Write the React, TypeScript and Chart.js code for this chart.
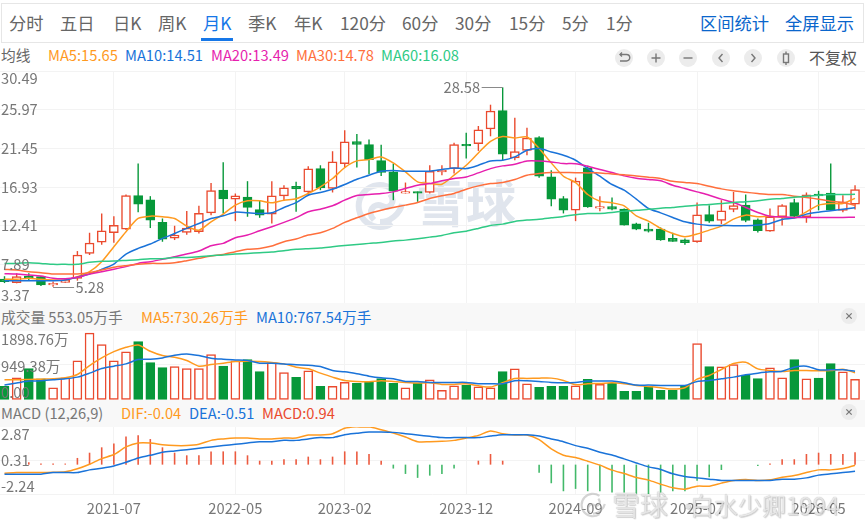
import { useEffect, useRef } from 'react';
import type { CSSProperties, ReactNode } from 'react';
import { Chart, registerables } from 'chart.js';

Chart.register(...registerables);

const FONT = '"Noto Sans CJK SC", "Noto Sans", sans-serif';
const GREY_TEXT = '#777777';
const GRID = '#f3f3f3';
const RED = '#ea4a2e';
const GREEN = '#07983a';
const ORANGE = '#ff9a1f';
const BLUE = '#1a73d9';
const MAGENTA = '#e61fae';
const CORAL = '#ff6f3c';
const MINT = '#2fca85';

const tabs = ['分时', '五日', '日K', '周K', '月K', '季K', '年K', '120分', '60分', '30分', '15分', '5分', '1分'];
const tabLefts = [9, 60, 113, 158, 203, 248, 294, 340, 402, 455, 509, 562, 606];

// monthly candles, oldest first
const opens = [6.18, 5.75, 6.53, 6.45, 5.48, 5.79, 6.25, 9.17, 10.49, 11.58, 12.01, 15.94, 15.43, 12.79, 10.96, 11.62, 11.7, 13.91, 16.56, 15.51, 15.74, 14.3, 13.76, 15.9, 17.02, 16.36, 19.08, 16.75, 19.67, 22.23, 21.88, 20.02, 18.7, 16.21, 16.4, 16.29, 18.7, 19.08, 21.92, 22.0, 23.71, 25.85, 20.33, 21.22, 22.7, 18.11, 15.59, 14.22, 19.16, 14.46, 14.65, 14.34, 12.63, 12.01, 12.01, 10.92, 10.76, 10.53, 13.72, 13.02, 14.3, 14.81, 13.1, 11.78, 13.45, 15.12, 13.45, 16.09, 16.21, 14.2, 14.92];
const closes = [5.86, 6.45, 6.23, 5.48, 5.67, 6.06, 8.98, 10.38, 11.82, 12.44, 15.94, 14.92, 13.06, 10.84, 11.31, 12.13, 13.84, 16.52, 15.55, 15.9, 14.54, 13.64, 15.9, 16.83, 16.71, 19.05, 16.83, 19.86, 22.2, 21.92, 20.13, 18.62, 16.44, 16.4, 16.21, 18.77, 18.9, 21.88, 21.73, 23.6, 25.81, 20.76, 21.07, 22.66, 18.19, 15.51, 14.22, 17.61, 14.61, 14.65, 14.34, 12.48, 12.01, 11.78, 10.73, 10.57, 10.41, 13.68, 12.94, 14.15, 14.77, 13.02, 11.82, 13.45, 14.77, 13.49, 16.01, 15.9, 14.22, 15.2, 16.63];
const highs = [6.5, 6.84, 6.84, 6.53, 5.87, 6.25, 9.44, 11.58, 13.84, 13.52, 16.05, 19.67, 15.86, 13.25, 12.4, 14.11, 14.73, 17.41, 19.82, 16.17, 17.61, 15.39, 17.61, 17.14, 17.53, 19.36, 19.47, 21.11, 23.56, 23.13, 22.47, 21.88, 19.67, 17.45, 16.4, 19.47, 19.47, 22.1, 23.28, 24.06, 26.55, 28.58, 25.03, 23.87, 22.86, 18.89, 15.86, 18.03, 19.4, 15.86, 15.7, 14.42, 12.75, 12.75, 12.2, 11.58, 10.92, 15.12, 14.81, 15.39, 16.36, 16.05, 13.25, 14.42, 14.92, 15.55, 16.29, 16.48, 19.67, 15.97, 17.14];
const lows = [5.7, 5.67, 5.98, 5.36, 5.28, 5.75, 5.98, 8.98, 10.18, 10.42, 11.89, 13.99, 12.13, 10.53, 10.73, 11.35, 11.5, 13.64, 13.84, 12.94, 13.45, 13.33, 12.67, 15.39, 14.03, 15.97, 16.56, 16.29, 19.2, 19.2, 18.42, 18.23, 15.39, 16.17, 15.2, 16.17, 18.3, 18.5, 20.25, 21.15, 22.86, 20.06, 20.06, 20.64, 18.0, 14.69, 13.84, 12.94, 14.5, 14.1, 14.2, 12.44, 11.89, 11.62, 10.65, 10.53, 10.18, 10.41, 12.75, 12.59, 13.99, 12.82, 11.62, 11.7, 12.44, 13.37, 12.75, 14.2, 14.15, 13.99, 14.3];

const ma5 = [6.14, 6.14, 6.25, 6.14, 6.06, 6.06, 6.45, 7.03, 8.2, 9.95, 11.7, 13.25, 13.52, 13.45, 13.25, 12.36, 11.89, 12.86, 13.76, 14.81, 15.31, 15.31, 15.08, 15.39, 15.55, 16.17, 16.95, 17.92, 19.2, 19.98, 20.13, 20.45, 19.75, 18.7, 17.53, 17.34, 17.26, 18.31, 19.47, 20.91, 22.27, 22.82, 22.66, 22.78, 21.42, 19.75, 18.19, 17.45, 16.05, 15.27, 15.08, 14.73, 13.56, 12.94, 12.09, 11.5, 11.11, 11.43, 11.89, 12.36, 13.17, 13.64, 13.45, 13.52, 13.37, 13.33, 14.03, 14.81, 15.0, 15.0, 15.6];
const ma10 = [5.98, 5.98, 5.98, 5.98, 5.98, 6.06, 6.39, 6.76, 7.31, 7.92, 9.09, 9.75, 10.26, 10.92, 11.5, 12.09, 12.67, 13.25, 13.56, 13.99, 13.91, 13.84, 13.91, 14.54, 15.1, 15.97, 16.29, 16.67, 17.22, 17.84, 18.31, 18.77, 18.85, 18.77, 18.77, 18.77, 18.97, 19.16, 19.08, 19.47, 19.98, 20.06, 20.45, 21.22, 21.42, 21.03, 20.64, 20.06, 19.09, 18.19, 17.22, 16.56, 15.51, 14.42, 13.91, 13.37, 12.86, 12.59, 12.44, 12.44, 12.4, 12.4, 12.48, 12.67, 13.14, 13.29, 13.76, 13.99, 14.15, 14.34, 14.5];
const ma20 = [6.8, 6.76, 6.64, 6.52, 6.25, 6.2, 6.39, 6.76, 7.03, 7.31, 7.62, 8.0, 8.2, 8.47, 8.78, 9.09, 9.44, 10.06, 10.34, 11.0, 11.31, 11.82, 12.28, 12.79, 13.35, 14.03, 14.34, 14.73, 15.39, 15.94, 16.05, 16.17, 16.36, 16.75, 17.14, 17.33, 17.65, 17.92, 18.11, 18.58, 19.08, 19.4, 19.59, 19.98, 19.98, 19.86, 19.67, 19.65, 19.36, 18.97, 18.62, 18.23, 17.96, 17.8, 17.65, 17.14, 16.75, 16.36, 15.97, 15.51, 15.12, 14.54, 13.95, 13.52, 13.45, 13.37, 13.37, 13.37, 13.37, 13.37, 13.4];
const ma30 = [7.3, 7.23, 7.03, 6.92, 6.76, 6.76, 6.76, 6.92, 7.23, 7.54, 7.73, 7.89, 8.0, 8.0, 8.08, 8.32, 8.59, 8.86, 9.05, 9.37, 9.64, 9.75, 10.03, 10.53, 10.85, 11.31, 11.58, 12.09, 12.79, 13.33, 13.84, 14.22, 14.53, 14.81, 15.12, 15.59, 15.9, 16.17, 16.67, 17.06, 17.33, 17.45, 17.8, 18.31, 18.5, 18.62, 18.62, 18.6, 18.58, 18.58, 18.46, 18.35, 18.23, 18.07, 17.92, 17.6, 17.45, 17.33, 17.02, 16.71, 16.48, 16.32, 16.17, 16.05, 16.05, 15.86, 15.7, 15.51, 15.27, 15.12, 14.8];
const ma60 = [8.0, 8.0, 8.08, 8.0, 7.89, 7.89, 7.89, 8.12, 8.24, 8.27, 8.35, 8.43, 8.55, 8.55, 8.68, 8.7, 8.78, 8.9, 8.98, 9.09, 9.17, 9.25, 9.33, 9.48, 9.64, 9.72, 9.79, 9.95, 10.1, 10.22, 10.34, 10.45, 10.61, 10.72, 10.88, 11.07, 11.27, 11.58, 11.77, 12.09, 12.44, 12.59, 12.9, 13.06, 13.17, 13.33, 13.49, 13.7, 13.84, 13.84, 13.95, 14.11, 14.2, 14.34, 14.46, 14.54, 14.69, 14.81, 14.88, 15.0, 15.12, 15.2, 15.31, 15.51, 15.59, 15.74, 15.86, 15.97, 16.05, 16.05, 16.08];

const volumes = [363, 594, 842, 567, 328, 594, 1046, 1790, 1480, 1046, 1285, 1560, 1002, 869, 895, 842, 842, 1214, 904, 1046, 1081, 762, 1002, 736, 603, 780, 363, 363, 470, 443, 479, 576, 443, 328, 452, 541, 257, 381, 390, 355, 328, 762, 833, 434, 337, 363, 363, 381, 550, 417, 452, 230, 230, 363, 257, 257, 390, 1507, 895, 886, 948, 665, 576, 860, 594, 1081, 567, 585, 975, 753, 553.05];
const volMa5 = [541, 541, 550, 558, 567, 594, 683, 922, 1126, 1294, 1409, 1471, 1303, 1188, 1143, 1055, 904, 948, 984, 1028, 1037, 1028, 1002, 966, 878, 833, 718, 612, 523, 496, 488, 514, 496, 470, 452, 461, 417, 417, 434, 381, 346, 461, 576, 576, 585, 585, 523, 408, 434, 443, 461, 434, 390, 363, 328, 293, 328, 558, 656, 815, 975, 1010, 833, 789, 762, 789, 789, 780, 789, 824, 730.26];
const volMa10 = [399, 452, 505, 514, 541, 567, 612, 718, 842, 904, 966, 1081, 1090, 1126, 1197, 1232, 1188, 1117, 1090, 1072, 1055, 984, 984, 966, 940, 931, 895, 789, 753, 700, 638, 594, 567, 496, 496, 470, 470, 470, 470, 434, 434, 434, 514, 514, 496, 470, 461, 470, 505, 505, 505, 461, 399, 399, 390, 390, 390, 496, 523, 567, 612, 674, 718, 753, 771, 878, 904, 807, 807, 807, 767.54];

const macdBars = [0, 0, 0.18, 0.08, 0.08, 0.08, 0.51, 0.91, 1.32, 1.62, 2.15, 2.25, 1.95, 1.32, 0.91, 0.71, 0.71, 1.01, 1.01, 1.01, 0.71, 0.3, 0.3, 0.41, 0.41, 0.61, 0.41, 0.61, 1.01, 1.01, 0.81, 0.3, -0.3, -0.71, -1.01, -0.84, -0.71, -0.3, 0, 0.3, 0.81, 0.3, 0, 0, -0.61, -1.42, -2.03, -1.85, -2.03, -2.03, -2.13, -2.13, -2.23, -2.3, -2.13, -2.03, -2.03, -1.22, -0.96, -0.41, 0, 0, -0.1, 0.08, 0.41, 0.41, 0.81, 0.91, 0.81, 0.81, 0.94];
const dif = [-0.65, -0.6, -0.6, -0.6, -0.58, -0.55, -0.32, 0.03, 0.46, 0.77, 1.35, 1.65, 1.65, 1.52, 1.45, 1.45, 1.55, 1.85, 1.96, 2.03, 2.03, 1.96, 1.96, 2.03, 2.03, 2.26, 2.26, 2.36, 2.77, 2.89, 2.89, 2.66, 2.41, 2.11, 1.75, 1.75, 1.78, 1.85, 2.03, 2.23, 2.56, 2.36, 2.26, 2.26, 1.9, 1.2, 0.72, 0.54, 0.26, -0.04, -0.42, -0.68, -0.98, -1.18, -1.49, -1.77, -1.87, -1.64, -1.64, -1.41, -1.21, -1.13, -1.21, -1.16, -0.96, -0.83, -0.6, -0.4, -0.4, -0.3, -0.04];
const dea = [-0.73, -0.73, -0.73, -0.73, -0.6, -0.6, -0.6, -0.4, -0.27, -0.1, 0.18, 0.51, 0.71, 0.94, 1.04, 1.14, 1.25, 1.35, 1.45, 1.55, 1.65, 1.75, 1.75, 1.85, 1.85, 1.96, 2.06, 2.06, 2.28, 2.39, 2.49, 2.49, 2.46, 2.36, 2.26, 2.16, 2.06, 2.06, 2.06, 2.06, 2.18, 2.28, 2.28, 2.28, 2.18, 1.96, 1.75, 1.45, 1.25, 0.94, 0.74, 0.44, 0.13, -0.17, -0.37, -0.7, -0.91, -1.01, -1.11, -1.21, -1.21, -1.21, -1.21, -1.21, -1.11, -1.11, -1.01, -0.8, -0.7, -0.6, -0.51];

const monthTickIndexes = [9, 19, 28, 38, 47, 57, 67];
const monthTickLabels = ['2021-07', '2022-05', '2023-02', '2023-12', '2024-09', '2025-07', '2026-05'];
const priceTicks = [30.49, 25.97, 21.45, 16.93, 12.41, 7.89, 3.37];
const volumeTicks = [1898.76, 949.38, 0];
const macdTicks = [2.87, 0.31, -2.24];

const X_MIN = -0.37;
const X_MAX = 70.82;

const rising = closes.map((c, i) => c >= opens[i]);

function xScale(labels = false): any {
  return {
    type: 'linear',
    min: X_MIN,
    max: X_MAX,
    offset: false,
    bounds: 'data',
    afterBuildTicks(scale: any) {
      scale.ticks = monthTickIndexes.map((value) => ({ value }));
    },
    afterFit(scale: any) {
      scale.height = labels ? 37 : 0;
    },
    border: { display: false },
    grid: { color: GRID, offset: false, drawTicks: false },
    ticks: {
      display: labels,
      autoSkip: false,
      maxRotation: 0,
      padding: 6,
      color: GREY_TEXT,
      font: { family: FONT, size: 14.7 },
      callback: (value: number) => monthTickLabels[monthTickIndexes.indexOf(value)] ?? '',
    },
  };
}

function yScale(min: number, max: number, gridValues: number[]): any {
  return {
    type: 'linear',
    min,
    max,
    bounds: 'data',
    beginAtZero: false,
    afterBuildTicks(scale: any) {
      scale.ticks = gridValues.map((value) => ({ value }));
    },
    afterFit(scale: any) {
      scale.width = 0;
    },
    border: { display: false },
    grid: { color: GRID, drawTicks: false },
    ticks: { display: false },
  };
}

function lineSet(values: number[], color: string) {
  return {
    type: 'line',
    data: values.map((y, x) => ({ x, y })),
    borderColor: color,
    borderWidth: 1.5,
    pointRadius: 0,
    tension: 0.25,
    order: 0,
  };
}

interface SideLabel {
  value: number;
  text: string;
  baseline?: CanvasTextBaseline;
  nudge?: number;
}

// y axis texts sit inside the plot, first and last ones pushed inward
function sideLabels(items: SideLabel[]) {
  return {
    id: 'sideLabels',
    afterDatasetsDraw(chart: any) {
      const { ctx, scales } = chart;
      ctx.save();
      ctx.font = `14.7px ${FONT}`;
      ctx.fillStyle = GREY_TEXT;
      ctx.textAlign = 'left';
      items.forEach((item) => {
        ctx.textBaseline = item.baseline ?? 'middle';
        ctx.fillText(item.text, 1, scales.y.getPixelForValue(item.value) + (item.nudge ?? 0));
      });
      ctx.restore();
    },
  };
}

// 28.58 and 5.28 markers
function extremes(items: { index: number; value: number; dir: number }[]) {
  return {
    id: 'extremes',
    afterDatasetsDraw(chart: any) {
      const { ctx, scales } = chart;
      ctx.save();
      ctx.font = `14.7px ${FONT}`;
      ctx.fillStyle = GREY_TEXT;
      ctx.strokeStyle = '#8a8a8a';
      ctx.lineWidth = 1;
      ctx.textBaseline = 'middle';
      items.forEach((item) => {
        const px = scales.x.getPixelForValue(item.index);
        const py = Math.round(scales.y.getPixelForValue(item.value)) + 0.5;
        const end = px + item.dir * 21;
        ctx.beginPath();
        ctx.moveTo(px, py);
        ctx.lineTo(end, py);
        ctx.stroke();
        ctx.textAlign = item.dir < 0 ? 'right' : 'left';
        ctx.fillText(item.value.toFixed(2), end + item.dir * 1.5, py);
      });
      ctx.restore();
    },
  };
}

function baseOptions(x: any, y: any): any {
  return {
    animation: false,
    responsive: false,
    maintainAspectRatio: false,
    layout: { padding: 0 },
    scales: { x, y },
    plugins: { legend: { display: false }, tooltip: { enabled: false } },
  };
}

function Text({ left, cy, size = 14.7, color = GREY_TEXT, children, style }: { left: number; cy: number; size?: number; color?: string; children: ReactNode; style?: CSSProperties }) {
  return (
    <div
      style={{
        position: 'absolute',
        left,
        top: cy,
        transform: 'translateY(-50%)',
        fontSize: size,
        lineHeight: 1.2,
        color,
        whiteSpace: 'nowrap',
        ...style,
      }}
    >
      {children}
    </div>
  );
}

function RoundIcon({ cx, cy, children, r = 9 }: { cx: number; cy: number; r?: number; children?: ReactNode }) {
  return (
    <svg width={r * 2} height={r * 2} viewBox="0 0 18 18" style={{ position: 'absolute', left: cx - r, top: cy - r }}>
      <circle cx="9" cy="9" r="9" fill="#ececec" />
      <g fill="none" stroke="#777" strokeWidth="1.4">
        {children}
      </g>
    </svg>
  );
}

function XueqiuLogo({ left, top, size, color, width }: { left: number; top: number; size: number; color: string; width: number }) {
  return (
    <svg width={size} height={size} viewBox="0 0 56 48" style={{ position: 'absolute', left, top }}>
      <g fill="none" stroke={color} strokeWidth={width}>
        <path d="M40 7 A21 21 0 1 0 40 41" />
        <path d="M22 38 C14 30 22 20 30 24 C38 28 44 20 38 12" />
        <path d="M28 40 C38 40 48 32 50 22" />
      </g>
    </svg>
  );
}

export default function App() {
  const priceRef = useRef<HTMLCanvasElement | null>(null);
  const volumeRef = useRef<HTMLCanvasElement | null>(null);
  const macdRef = useRef<HTMLCanvasElement | null>(null);

  useEffect(() => {
    if (!priceRef.current || !volumeRef.current || !macdRef.current) {
      return;
    }

    const priceChart = new Chart(priceRef.current, {
      type: 'bar',
      data: {
        datasets: [
          {
            data: highs.map((h, x) => ({ x, y: [lows[x], h] })),
            backgroundColor: rising.map((r) => (r ? RED : GREEN)),
            barThickness: 1.4,
            inflateAmount: 0,
            grouped: false,
            order: 3,
          },
          {
            data: opens.map((o, x) => ({ x, y: [o, closes[x]] })),
            backgroundColor: rising.map((r) => (r ? '#ffffff' : GREEN)),
            borderColor: rising.map((r) => (r ? RED : GREEN)),
            borderWidth: 1.5,
            borderSkipped: false,
            barThickness: 9,
            grouped: false,
            order: 2,
          },
          lineSet(ma60, MINT),
          lineSet(ma30, CORAL),
          lineSet(ma20, MAGENTA),
          lineSet(ma10, BLUE),
          lineSet(ma5, ORANGE),
        ] as any,
      },
      options: baseOptions(xScale(), yScale(3.37, 30.49, priceTicks)),
      plugins: [
        sideLabels(
          priceTicks.map((value, i) => ({
            value,
            text: value.toFixed(2),
            baseline: i === 0 ? 'top' : i === priceTicks.length - 1 ? 'bottom' : 'middle',
          })),
        ),
        extremes([
          { index: 41, value: 28.58, dir: -1 },
          { index: 4, value: 5.28, dir: 1 },
        ]),
      ],
    });

    const volumeChart = new Chart(volumeRef.current, {
      type: 'bar',
      data: {
        datasets: [
          {
            data: volumes.map((y, x) => ({ x, y })),
            backgroundColor: rising.map((r) => (r ? '#ffffff' : GREEN)),
            borderColor: rising.map((r) => (r ? RED : GREEN)),
            borderWidth: 1.5,
            borderSkipped: false,
            barThickness: 9,
            order: 2,
          },
          lineSet(volMa10, BLUE),
          lineSet(volMa5, ORANGE),
        ] as any,
      },
      options: baseOptions(xScale(), yScale(0, 1898.76, [949.38, 0])),
      plugins: [
        sideLabels([
          { value: volumeTicks[0], text: '1898.76万', nudge: 10 },
          { value: volumeTicks[1], text: '949.38万', nudge: 2 },
          { value: volumeTicks[2], text: '0.00', baseline: 'bottom' },
        ]),
      ],
    });

    const macdChart = new Chart(macdRef.current, {
      type: 'bar',
      data: {
        datasets: [
          {
            data: macdBars.map((y, x) => ({ x, y })),
            backgroundColor: macdBars.map((v) => (v >= 0 ? '#ec5a3f' : '#43b96a')),
            barThickness: 1.6,
            inflateAmount: 0,
            order: 2,
          },
          lineSet(dea, BLUE),
          lineSet(dif, ORANGE),
        ] as any,
      },
      options: baseOptions(xScale(true), yScale(-2.24, 2.87, [0.31, -2.24])),
      plugins: [
        sideLabels([
          { value: macdTicks[0], text: '2.87', baseline: 'top' },
          { value: macdTicks[1], text: '0.31' },
          { value: macdTicks[2], text: '-2.24', baseline: 'bottom' },
        ]),
      ],
    });

    return () => {
      priceChart.destroy();
      volumeChart.destroy();
      macdChart.destroy();
    };
  }, []);

  return (
    <div style={{ position: 'absolute', left: 0, top: 0, width: 865, height: 531, overflow: 'hidden', background: '#fff', fontFamily: FONT }}>
      {/* period bar */}
      <div style={{ position: 'absolute', left: 1, top: 3, width: 861, height: 38, border: '1px solid #e6e6e6' }} />
      {tabs.map((tab, i) => (
        <Text key={tab} left={tabLefts[i]} cy={23} size={17.3} color={tab === '月K' ? '#1677e8' : '#666'}>
          {tab}
        </Text>
      ))}
      <div style={{ position: 'absolute', left: 201, top: 38, width: 32, height: 3, background: '#1677e8' }} />
      <Text left={700} cy={23} size={17.3} color="#0a66cc">区间统计</Text>
      <Text left={785} cy={23} size={17.3} color="#0a66cc">全屏显示</Text>

      {/* moving average legend */}
      <Text left={1} cy={55} color="#666">均线</Text>
      <Text left={48} cy={55} color={ORANGE}>MA5:15.65</Text>
      <Text left={125} cy={55} color={BLUE}>MA10:14.51</Text>
      <Text left={211} cy={55} color={MAGENTA}>MA20:13.49</Text>
      <Text left={296} cy={55} color={CORAL}>MA30:14.78</Text>
      <Text left={381} cy={55} color={MINT}>MA60:16.08</Text>

      <RoundIcon cx={624} cy={58}>
        <path d="M5 5.5 H11.5 A3 3 0 0 1 11.5 12 H5" />
        <path d="M7 3.5 L5 5.5 L7 7.5" />
      </RoundIcon>
      <RoundIcon cx={656} cy={58}>
        <path d="M4.5 9 H13.5 M9 4.5 V13.5" />
      </RoundIcon>
      <RoundIcon cx={688} cy={58}>
        <path d="M4.5 9 H13.5" />
      </RoundIcon>
      <RoundIcon cx={721} cy={58}>
        <path d="M10.5 5 L7 9 L10.5 13" />
      </RoundIcon>
      <RoundIcon cx={753} cy={58}>
        <path d="M7.5 5 L11 9 L7.5 13" />
      </RoundIcon>
      <RoundIcon cx={786} cy={58}>
        <rect x="6.5" y="5" width="5" height="8.5" />
        <path d="M9 2.5 V5 M9 13.5 V16" />
      </RoundIcon>
      <Text left={809} cy={58} size={16} color="#555">不复权</Text>

      {/* centre watermark, sits behind the price chart */}
      <XueqiuLogo left={352} top={178} size={56} color="#e0e5ed" width={6} />
      <Text left={416} cy={200} size={50} color="#e0e5ed" style={{ fontWeight: 700 }}>雪球</Text>

      {/* indicator headers */}
      <div style={{ position: 'absolute', left: 0, top: 303, width: 865, height: 28, background: '#f8f8f8' }} />
      <div style={{ position: 'absolute', left: 0, top: 400, width: 865, height: 27, background: '#f8f8f8' }} />
      <Text left={1} cy={317}>成交量 553.05万手</Text>
      <Text left={141} cy={317} color={ORANGE}>MA5:730.26万手</Text>
      <Text left={256} cy={317} color={BLUE}>MA10:767.54万手</Text>
      <Text left={1} cy={413}>MACD (12,26,9)</Text>
      <Text left={121} cy={413} color={ORANGE}>DIF:-0.04</Text>
      <Text left={189} cy={413} color={BLUE}>DEA:-0.51</Text>
      <Text left={262} cy={413} color={RED}>MACD:0.94</Text>
      <RoundIcon cx={849} cy={316} r={8}>
        <path d="M6 6 L12 12 M12 6 L6 12" />
      </RoundIcon>
      <RoundIcon cx={849} cy={412} r={8}>
        <path d="M6 6 L12 12 M12 6 L6 12" />
      </RoundIcon>

      <canvas ref={priceRef} width={865} height={232} style={{ position: 'absolute', left: 0, top: 71, width: 865, height: 232 }} />
      <canvas ref={volumeRef} width={865} height={71} style={{ position: 'absolute', left: 0, top: 329, width: 865, height: 71 }} />
      <canvas ref={macdRef} width={865} height={104} style={{ position: 'absolute', left: 0, top: 427, width: 865, height: 104 }} />

      {/* author watermark over the footer */}
      <XueqiuLogo left={578} top={490} size={30} color="rgba(170,170,170,0.5)" width={4} />
      <Text
        left={612}
        cy={505}
        size={28}
        color="rgba(255,255,255,0.75)"
        style={{ textShadow: '0 0 1px rgba(0,0,0,0.4), 1px 1px 1px rgba(0,0,0,0.15)' }}
      >
        雪球
      </Text>
      <Text left={676} cy={505} size={24} color="rgba(255,255,255,0.75)" style={{ textShadow: '0 0 1px rgba(0,0,0,0.4), 1px 1px 1px rgba(0,0,0,0.15)' }}>
        ·
      </Text>
      <Text left={690} cy={505} size={24} color="rgba(255,255,255,0.75)" style={{ textShadow: '0 0 1px rgba(0,0,0,0.4), 1px 1px 1px rgba(0,0,0,0.15)' }}>
        白水少卿1994
      </Text>
    </div>
  );
}
